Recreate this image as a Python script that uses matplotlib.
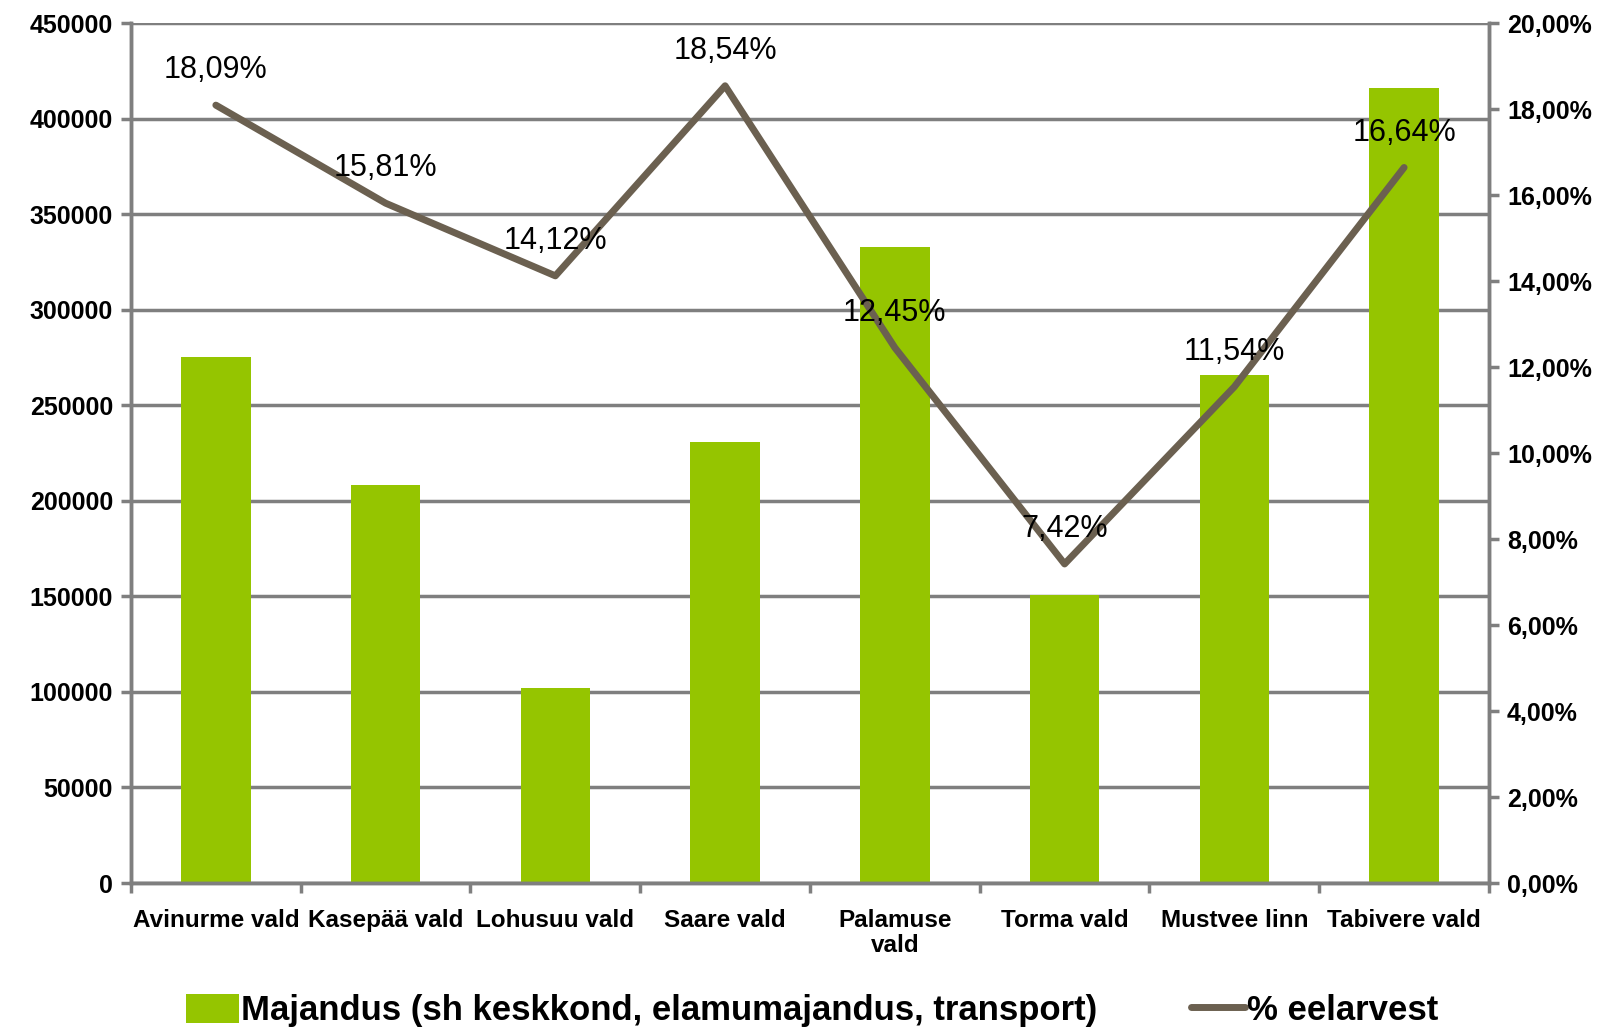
import numpy as np
from matplotlib import pyplot as plt
from matplotlib.ticker import FuncFormatter, MultipleLocator, FixedLocator

plt.rcParams['font.family'] = ['Liberation Sans', 'DejaVu Sans']

municipalities = ["Avinurme vald", "Kasepää vald", "Lohusuu vald", "Saare vald",
                  "Palamuse\nvald", "Torma vald", "Mustvee linn", "Tabivere vald"]
majandus = [275000, 208500, 102000, 230500, 333000, 150500, 266000, 416000]
percent_of_budget = [18.09, 15.81, 14.12, 18.54, 12.45, 7.42, 11.54, 16.64]

bar_label = "Majandus (sh keskkond, elamumajandus, transport)"
line_label = "% eelarvest"

bar_color = "#95c500"
line_color = "#6b6050"
grid_color = "#7f7f7f"


def main():
    fig = plt.figure(figsize=[16.09, 10.27], dpi=100)
    ax = fig.add_axes([0.0814, 0.1402, 0.8440, 0.8374])
    ax2 = ax.twinx()

    x = np.arange(len(municipalities))
    bars = ax.bar(x, majandus, width=0.41, color=bar_color, zorder=2, label=bar_label)

    ax.set_ylim(0, 450000)
    ax.set_xlim(-0.5, len(municipalities) - 0.5)
    ax.yaxis.set_major_locator(MultipleLocator(50000))
    ax.yaxis.grid(True, color=grid_color, linewidth=2.5, zorder=0)
    ax.set_axisbelow(True)

    ax.set_xticks(x)
    ax.set_xticklabels(municipalities, fontsize=17.5, fontweight="bold", linespacing=1.1)
    ax.xaxis.set_minor_locator(FixedLocator(np.arange(-0.5, len(municipalities), 1.0)))
    ax.tick_params(axis="x", which="major", length=0, pad=19)
    ax.tick_params(axis="x", which="minor", length=7, width=2.5, color=grid_color, direction="out")
    ax.tick_params(axis="y", length=7, width=2.5, color=grid_color, labelsize=18, pad=6)
    for lab in ax.get_yticklabels():
        lab.set_fontweight("bold")

    for side in ["top"]:
        ax.spines[side].set_visible(False)
        ax2.spines[side].set_visible(False)
    for side in ["left", "bottom", "right"]:
        ax.spines[side].set_color(grid_color)
        ax.spines[side].set_linewidth(2.5)
        ax2.spines[side].set_color(grid_color)
        ax2.spines[side].set_linewidth(2.5)

    line, = ax2.plot(x, percent_of_budget, color=line_color, linewidth=5,
                     solid_capstyle="round", zorder=3, label=line_label)
    ax2.set_ylim(0, 20)
    ax2.yaxis.set_major_locator(MultipleLocator(2))
    ax2.yaxis.set_major_formatter(FuncFormatter(lambda v, p: f"{v:.2f}%".replace(".", ",")))
    ax2.tick_params(axis="y", length=7, width=2.5, color=grid_color, labelsize=18, pad=6)
    for lab in ax2.get_yticklabels():
        lab.set_fontweight("bold")

    for xi, v in zip(x, percent_of_budget):
        ax2.annotate(f"{v:.2f}%".replace(".", ","), (xi, v), xytext=(0, 25),
                     textcoords="offset points", ha="center", va="center",
                     fontsize=22, zorder=4)

    fig.legend([bars, line], [bar_label, line_label], loc="center",
               bbox_to_anchor=(0.5045, 0.016), ncol=2, frameon=False,
               prop={"size": 25, "weight": "bold"},
               handlelength=1.55, handletextpad=0.05, columnspacing=2.7,
               handleheight=0.9)

    fig.savefig("out.png", dpi=100)


if __name__ == '__main__':
    main()
